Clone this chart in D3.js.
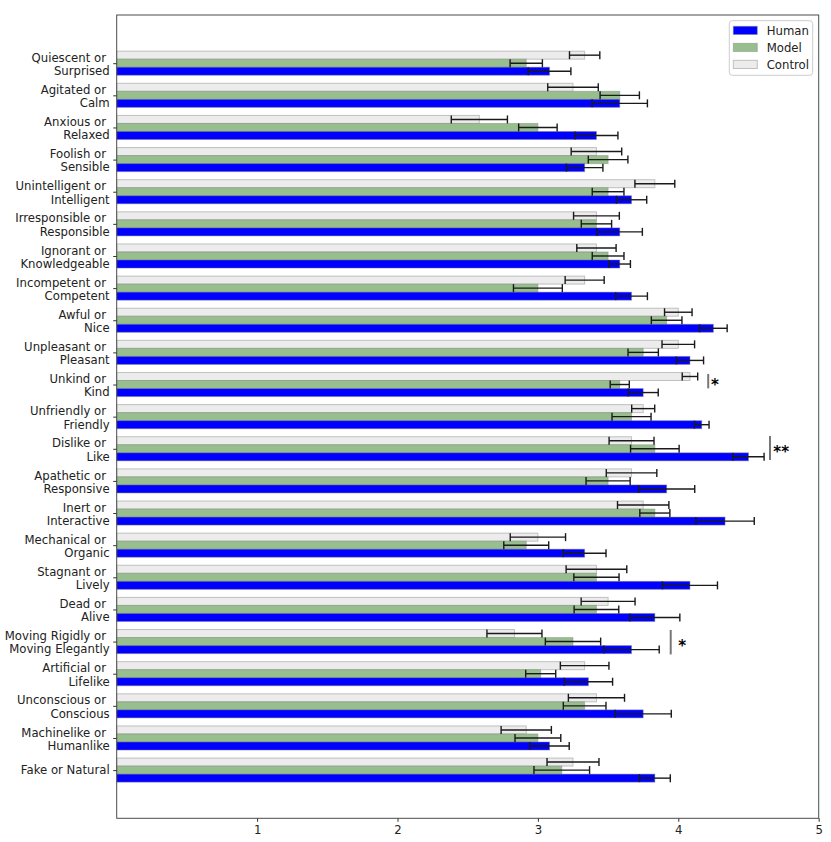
<!DOCTYPE html>
<html>
<head>
<meta charset="utf-8">
<script src="https://cdn.jsdelivr.net/npm/d3@7"></script>
<style>
  html, body { margin: 0; padding: 0; background: #fff; }
  svg { display: block; font-family: "DejaVu Sans", sans-serif; }
  text { white-space: pre; }
</style>
</head>
<body>
<svg id="chart" width="831" height="842"></svg>
<script>
const categories = [
  "Quiescent or \nSurprised", "Agitated or \nCalm", "Anxious or \nRelaxed", "Foolish or \nSensible",
  "Unintelligent or \nIntelligent", "Irresponsible or \nResponsible", "Ignorant or \nKnowledgeable",
  "Incompetent or \nCompetent", "Awful or \nNice", "Unpleasant or \nPleasant", "Unkind or \nKind",
  "Unfriendly or \nFriendly", "Dislike or \nLike", "Apathetic or \nResponsive", "Inert or \nInteractive",
  "Mechanical or \nOrganic", "Stagnant or \nLively", "Dead or \nAlive", "Moving Rigidly or \nMoving Elegantly",
  "Artificial or \nLifelike", "Unconscious or \nConscious", "Machinelike or \nHumanlike", "Fake or Natural"
];
const human      = [3.083, 3.583, 3.417, 3.333, 3.667, 3.583, 3.583, 3.667, 4.25, 4.083, 3.75, 4.167, 4.5, 3.917, 4.333, 3.333, 4.083, 3.833, 3.667, 3.36, 3.75, 3.083, 3.833];
const humanErr   = [0.152, 0.197, 0.153, 0.13, 0.108, 0.161, 0.076, 0.113, 0.098, 0.097, 0.107, 0.052, 0.111, 0.2, 0.208, 0.152, 0.196, 0.178, 0.197, 0.172, 0.2, 0.14, 0.11];
const model      = [2.917, 3.583, 3.0, 3.5, 3.5, 3.417, 3.5, 3.0, 3.917, 3.75, 3.583, 3.667, 3.833, 3.5, 3.833, 2.917, 3.417, 3.417, 3.25, 3.02, 3.333, 3.0, 3.17];
const modelErr   = [0.115, 0.14, 0.137, 0.141, 0.113, 0.108, 0.113, 0.174, 0.109, 0.108, 0.068, 0.139, 0.173, 0.157, 0.107, 0.16, 0.161, 0.159, 0.197, 0.107, 0.152, 0.163, 0.198];
const control    = [3.333, 3.25, 2.583, 3.417, 3.833, 3.417, 3.417, 3.333, 4.0, 4.0, 4.083, 3.75, 3.667, 3.667, 3.75, 3.0, 3.417, 3.5, 2.833, 3.333, 3.417, 2.917, 3.25];
const controlErr = [0.108, 0.18, 0.2, 0.18, 0.142, 0.163, 0.14, 0.139, 0.098, 0.116, 0.055, 0.082, 0.16, 0.18, 0.183, 0.197, 0.216, 0.192, 0.196, 0.173, 0.2, 0.179, 0.185];
const xTicks = [1, 2, 3, 4, 5];
const seriesNames = ["Human", "Model", "Control"];
// significance annotations: category index, line x (data), text x (data), y span (group units), label
const sigCat   = [10, 12, 18];
const sigX     = [4.213, 4.653, 3.946];
const sigTextX = [4.233, 4.677, 4.0];
const sigY0    = [-0.33, -0.40, -0.36];
const sigY1    = [0.12, 0.35, 0.40];
const sigLabel = ["*", "**", "*"];

(function () {
const svg = d3.select("#chart");
const pLeft = 116.7, pRight = 818.7, pTop = 15, pBottom = 818.3;
const x = d3.scaleLinear().domain([0, 5]).range([pLeft, pRight]);
const y = d3.scaleLinear().domain([-1.5, 23.5]).range([pTop, pBottom]);
const bw = 0.25;
const bh = y(bw) - y(0);
const FS = 11.7;

const colors = { Human: "#0000ff", Model: "#97bf8d", Control: "#ececec" };
const series = [
  { name: "Control", vals: control, errs: controlErr, off: -bw },
  { name: "Model", vals: model, errs: modelErr, off: 0 },
  { name: "Human", vals: human, errs: humanErr, off: bw }
];

const g = svg.append("g");
series.forEach(s => {
  g.append("g").selectAll("rect").data(s.vals).join("rect")
    .attr("x", x(0))
    .attr("y", (d, i) => y(i + s.off) - bh / 2)
    .attr("width", d => x(d) - x(0))
    .attr("height", bh)
    .attr("fill", colors[s.name])
    .attr("stroke", "#808080").attr("stroke-opacity", 0.45).attr("stroke-width", 1);
});
series.forEach(s => {
  const eg = g.append("g").attr("stroke", "#1a1a1a").attr("stroke-width", 1.4);
  s.vals.forEach((v, i) => {
    const cy = y(i + s.off), e = s.errs[i];
    eg.append("line").attr("x1", x(v - e)).attr("x2", x(v + e)).attr("y1", cy).attr("y2", cy);
    eg.append("line").attr("x1", x(v - e)).attr("x2", x(v - e)).attr("y1", cy - 4).attr("y2", cy + 4);
    eg.append("line").attr("x1", x(v + e)).attr("x2", x(v + e)).attr("y1", cy - 4).attr("y2", cy + 4);
  });
});

// significance marks
sigCat.forEach((c, k) => {
  g.append("line").attr("x1", x(sigX[k])).attr("x2", x(sigX[k]))
    .attr("y1", y(c + sigY0[k])).attr("y2", y(c + sigY1[k]))
    .attr("stroke", "#777").attr("stroke-width", 2);
  g.append("text").attr("x", x(sigTextX[k])).attr("y", y(c + (sigY0[k] + sigY1[k]) / 2) + 8.6)
    .attr("font-size", 15).attr("font-weight", "bold").attr("fill", "#000").text(sigLabel[k]);
});

// frame
svg.append("rect").attr("x", pLeft).attr("y", pTop).attr("width", pRight - pLeft).attr("height", pBottom - pTop)
  .attr("fill", "none").attr("stroke", "#4d4d4d").attr("stroke-width", 1);

// x axis
const xAxis = d3.axisBottom(x).tickValues(xTicks).tickSize(3.5).tickPadding(4).tickFormat(d3.format("d"));
const xg = svg.append("g").attr("transform", `translate(0,${pBottom})`).call(xAxis);
xg.select(".domain").remove();
xg.selectAll("line").attr("stroke", "#333");
xg.selectAll("text").attr("font-size", FS).attr("font-family", "DejaVu Sans").attr("fill", "#222");

// y axis
const yAxis = d3.axisLeft(y).tickValues(d3.range(categories.length)).tickSize(3.5).tickFormat("");
const yg = svg.append("g").attr("transform", `translate(${pLeft},0)`).call(yAxis);
yg.select(".domain").remove();
yg.selectAll("line").attr("stroke", "#333");
categories.forEach((c, i) => {
  const lines = c.split("\n");
  const t = svg.append("text").attr("text-anchor", "end").attr("font-size", FS).attr("fill", "#222");
  if (lines.length === 1) {
    t.append("tspan").attr("x", pLeft - 7).attr("y", y(i) + 4.3).text(lines[0]);
  } else {
    t.append("tspan").attr("x", pLeft - 7).attr("y", y(i) - 1.4).text(lines[0]);
    t.append("tspan").attr("x", pLeft - 7).attr("y", y(i) + 11.9).text(lines[1]);
  }
});

// legend
const lg = svg.append("g");
lg.append("rect").attr("x", 729.3).attr("y", 20.7).attr("width", 83.4).attr("height", 54.6).attr("rx", 3)
  .attr("fill", "#fff").attr("fill-opacity", 0.8).attr("stroke", "#cccccc");
seriesNames.forEach((n, k) => {
  const cy = 30.3 + k * 17;
  lg.append("rect").attr("x", 733.3).attr("y", cy - 4).attr("width", 24).attr("height", 8.2)
    .attr("fill", colors[n]).attr("stroke", "#808080").attr("stroke-opacity", 0.45);
  lg.append("text").attr("x", 766.7).attr("y", cy + 4.3).attr("font-size", FS).attr("fill", "#222").text(n);
});
})();
</script>
</body>
</html>
